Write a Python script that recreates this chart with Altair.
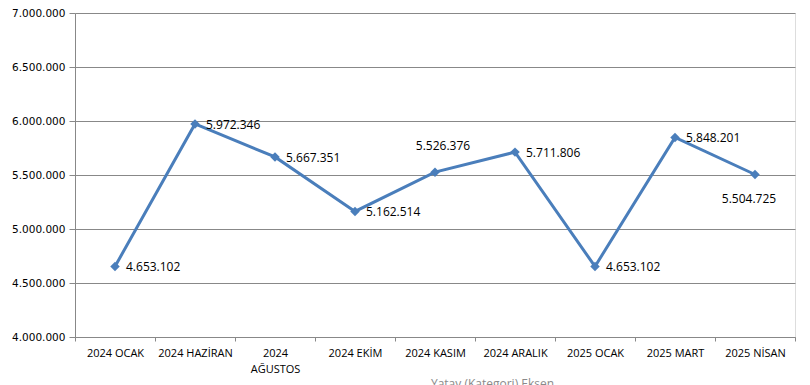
import json
import altair as alt
import pandas as pd

categories = ["2024 OCAK", "2024 HAZİRAN", "2024 AĞUSTOS", "2024 EKİM", "2024 KASIM",
              "2024 ARALIK", "2025 OCAK", "2025 MART", "2025 NİSAN"]
values = [4653102, 5972346, 5667351, 5162514, 5526376, 5711806, 4653102, 5848201, 5504725]
y_ticks = [4000000, 4500000, 5000000, 5500000, 6000000, 6500000, 7000000]

df = pd.DataFrame({
    "idx": list(range(len(categories))),
    "cat": categories,
    "value": values,
    "label": [f"{v:,}".replace(",", ".") for v in values],
})

# multi-line axis labels (second category wraps)
axis_labels = [c.split(" ") if c == "2024 AĞUSTOS" else c for c in categories]
n = len(categories)
label_expr = f"datum.value > {n - 1} ? '' : {json.dumps(axis_labels, ensure_ascii=False)}[datum.value + 0.5]"

BLUE = "#4a7ebb"
GRID = "#888888"

x_enc = alt.X("idx:Q",
              scale=alt.Scale(domain=[-0.5, n - 0.5], nice=False, zero=False),
              axis=alt.Axis(values=[i - 0.5 for i in range(n + 1)], labelExpr=label_expr,
                            labelOffset=40, labelOverlap=False, labelBound=False, labelFlush=False,
                            labelAlign="center",
                            labelFont="Open Sans", labelFontSize=11, labelColor="#000000",
                            labelPadding=6, labelLineHeight=16, labelBaseline="top",
                            grid=False, ticks=True, tickSize=4, tickColor=GRID, domainColor=GRID,
                            title="Yatay (Kategori) Eksen", titleColor="#8a8a8a",
                            titleFont="Open Sans", titleFontSize=12, titleFontWeight="normal",
                            titleX=417, titleY=41, titleAnchor="middle", titleBaseline="top"))
y_enc = alt.Y("value:Q",
              scale=alt.Scale(domain=[4000000, 7000000], nice=False, zero=False),
              axis=alt.Axis(values=y_ticks,
                            labelExpr="replace(format(datum.value, ',d'), regexp(',', 'g'), '.')",
                            labelFont="DejaVu Sans", labelFontSize=10.5, labelColor="#000000",
                            labelFlush=False, labelBaseline="middle",
                            labelPadding=4, tickSize=6, tickColor=GRID, domainColor=GRID,
                            grid=True, gridColor=GRID, gridWidth=1, title=None))

base = alt.Chart(df).encode(x=x_enc, y=y_enc)

line = base.mark_line(color=BLUE, strokeWidth=3)
points = base.mark_point(shape="diamond", filled=True, color=BLUE, size=90, opacity=1)

txt_kw = dict(font="Open Sans", fontSize=12, color="#000000")
right_labels = base.mark_text(align="left", baseline="middle", dx=11, dy=1, **txt_kw).encode(
    text="label:N").transform_filter(
    "datum.cat != '2024 KASIM' && datum.cat != '2025 NİSAN'")
above_label = base.mark_text(align="center", baseline="middle", dx=8, dy=-26, **txt_kw).encode(
    text="label:N").transform_filter("datum.cat == '2024 KASIM'")
below_label = base.mark_text(align="center", baseline="middle", dx=-6, dy=25, **txt_kw).encode(
    text="label:N").transform_filter("datum.cat == '2025 NİSAN'")

chart = alt.layer(line, points, right_labels, above_label, below_label).properties(
    width=720, height=324,
    autosize=alt.AutoSizeParams(type="none"),
    padding={"left": 67, "top": 5, "right": 7, "bottom": 48},
).configure_view(stroke=None).configure(background="white")

chart.save("out.html", embed_options={"renderer": "svg", "actions": False})
